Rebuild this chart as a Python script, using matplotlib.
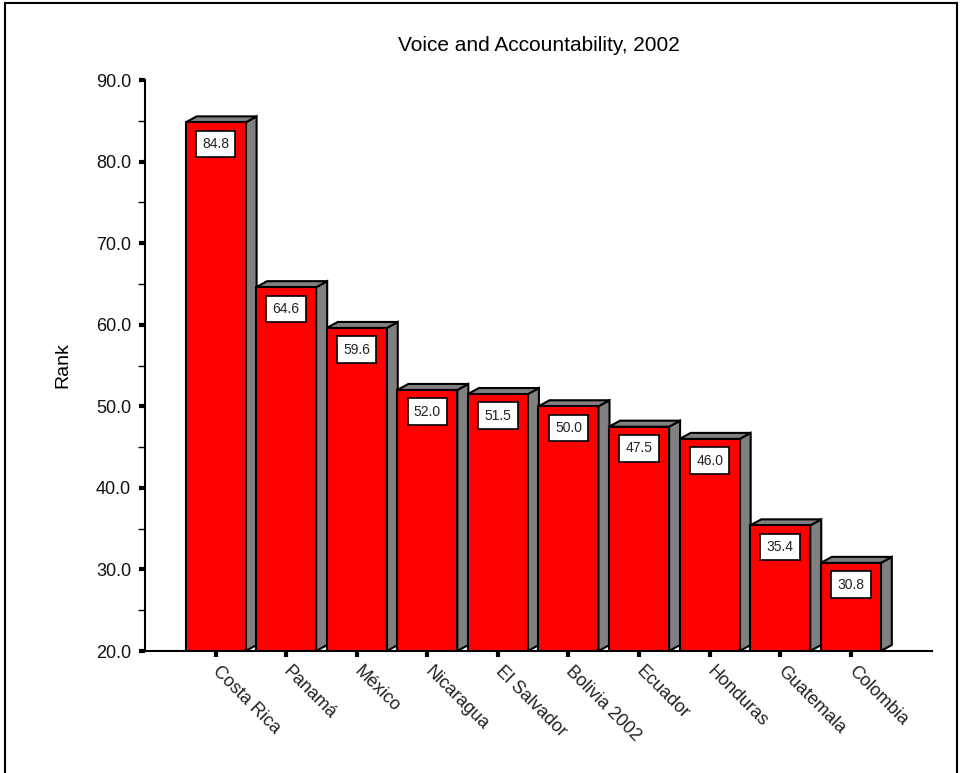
import matplotlib
matplotlib.use("Agg")
import matplotlib.pyplot as plt
from matplotlib.patches import Polygon
from matplotlib.lines import Line2D

plt.rcParams["font.family"] = ["Liberation Sans", "DejaVu Sans"]

countries = ["Costa Rica", "Panamá", "México", "Nicaragua", "El Salvador",
             "Bolivia 2002", "Ecuador", "Honduras", "Guatemala", "Colombia"]
ranks = [84.8, 64.6, 59.6, 52.0, 51.5, 50.0, 47.5, 46.0, 35.4, 30.8]
y_ticks = [20, 30, 40, 50, 60, 70, 80, 90]

BASE = 20.0
WIDTH = 0.85
DX, DY = 0.156, 0.74   # 3d depth offset in data units

fig = plt.figure(figsize=(9.61, 7.73), dpi=100)
ax = fig.add_axes([0.1509, 0.1578, 0.8189, 0.7387])

xs = list(range(len(countries)))
for i, v in zip(xs, ranks):
    x0, x1 = i - WIDTH / 2, i + WIDTH / 2
    # side face
    ax.add_patch(Polygon([(x1, BASE), (x1 + DX, BASE + DY), (x1 + DX, v + DY), (x1, v)],
                         closed=True, fc="#808080", ec="black", lw=1.5, zorder=2))
    # top face
    ax.add_patch(Polygon([(x0, v), (x0 + DX, v + DY), (x1 + DX, v + DY), (x1, v)],
                         closed=True, fc="#808080", ec="black", lw=1.5, zorder=2))
    # front face
    ax.bar(i, v - BASE, bottom=BASE, width=WIDTH, color="#ff0000",
           edgecolor="black", linewidth=1.5, zorder=3)
    ax.text(i, v - 2.65, f"{v:.1f}", ha="center", va="center", fontsize=10,
            color="#222222", zorder=4,
            bbox=dict(boxstyle="square,pad=0.45", fc="white", ec="black", lw=1.2))

ax.set_xlim(-1.0, 10.15)
ax.set_ylim(BASE, 90)
ax.set_yticks(y_ticks)
ax.set_yticklabels([f"{t:.1f}" for t in y_ticks], fontsize=13, color="#111111")
ax.set_yticks([25, 35, 45, 55, 65, 75, 85], minor=True)
ax.tick_params(axis="y", which="major", length=4, width=3, direction="out", pad=6)
ax.tick_params(axis="y", which="minor", length=5, width=1, direction="out")

ax.set_xticks(xs)
ax.set_xticklabels(countries, rotation=-45, ha="left", va="center",
                   rotation_mode="anchor", fontsize=13, color="#222222")
ax.tick_params(axis="x", length=4, width=3, direction="out", pad=9)

for s in ["top", "right"]:
    ax.spines[s].set_visible(False)
ax.spines["left"].set_linewidth(1.5)
ax.spines["bottom"].set_linewidth(1.5)

ax.set_ylabel("Rank", fontsize=14, labelpad=18)
ax.set_title("Voice and Accountability, 2002", fontsize=15, pad=21)

# figure frame
fig.add_artist(Line2D([0.0055, 0.0055], [0.0, 0.9965], color="black", lw=1.5))
fig.add_artist(Line2D([0.0055, 0.9955], [0.9965, 0.9965], color="black", lw=1.5))
fig.add_artist(Line2D([0.9955, 0.9955], [0.0, 0.9965], color="black", lw=1.5))

fig.savefig("out.png", dpi=100)
